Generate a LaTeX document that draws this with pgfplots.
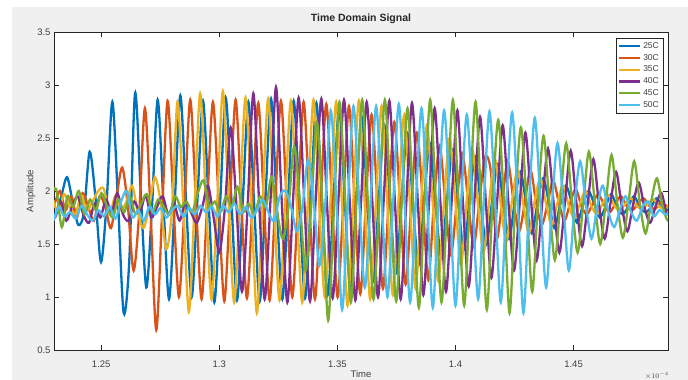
\documentclass[border=0pt]{standalone}
\usepackage{pgfplots}
\pgfplotsset{compat=1.18}
\usepackage{fontspec}
\setmainfont{Liberation Sans}
\definecolor{c1}{HTML}{0072BD}
\definecolor{c2}{HTML}{D95319}
\definecolor{c3}{HTML}{EDB120}
\definecolor{c4}{HTML}{7E2F8E}
\definecolor{c5}{HTML}{77AC30}
\definecolor{c6}{HTML}{4DBEEE}
\definecolor{axgray}{HTML}{262626}
\definecolor{txgray}{HTML}{404040}
\definecolor{figbg}{HTML}{F0F0F0}
\begin{document}
\begin{tikzpicture}[x=1pt,y=1pt]
\path[use as bounding box] (0,0) rectangle (688,380);
\fill[figbg] (12,0) rectangle (688,373);
\begin{axis}[
  at={(54pt,30pt)}, anchor=south west, scale only axis,
  width=614pt, height=318pt,
  xmin=1.23, xmax=1.49, ymin=0.5, ymax=3.5,
  xtick={1.25,1.3,1.35,1.4,1.45}, xticklabels={1.25,1.3,1.35,1.4,1.45},
  ytick={0.5,1,1.5,2,2.5,3,3.5}, yticklabels={0.5,1,1.5,2,2.5,3,3.5},
  axis background/.style={fill=white},
  tick align=inside, major tick length=5pt,
  tick style={axgray, line width=0.5pt},
  axis line style={axgray, line width=0.5pt},
  ticklabel style={font=\fontsize{9.5}{10}\selectfont, text=txgray},
  xticklabel style={yshift=-7pt},
  every axis plot/.append style={line width=2.3pt, smooth, tension=0.5},
  legend style={at={(rel axis cs:0.992,0.982)}, anchor=north east,
    draw=axgray, line width=0.5pt, fill=white,
    font=\fontsize{8.5}{9}\selectfont, text=txgray,
    row sep=0.3pt, inner xsep=2pt, inner ysep=2.5pt},
  legend cell align=left,
  legend image code/.code={\draw[#1, line width=2.3pt] (0pt,0pt) -- (21pt,0pt);},
]
\addplot[c1] coordinates {(1.2283,1.85)(1.2307,1.78)(1.2331,1.95)(1.2355,2.13)(1.2379,1.90)(1.2403,1.68)(1.2427,1.80)(1.2451,2.37)(1.2475,1.95)(1.2499,1.33)(1.2523,1.90)(1.2547,2.84)(1.2571,1.90)(1.2595,0.85)(1.2619,1.35)(1.2643,2.92)(1.2667,2.00)(1.2691,1.09)(1.2715,1.85)(1.2739,2.86)(1.2763,1.90)(1.2787,0.98)(1.2811,1.88)(1.2835,2.90)(1.2859,1.92)(1.2883,1.00)(1.2907,1.90)(1.2931,2.85)(1.2955,1.88)(1.2979,0.95)(1.3003,1.86)(1.3027,2.88)(1.3051,1.93)(1.3075,0.97)(1.3099,1.89)(1.3123,2.84)(1.3147,1.90)(1.3171,0.96)(1.3195,1.91)(1.3219,2.87)(1.3243,1.88)(1.3267,0.98)(1.3291,1.90)(1.3315,2.85)(1.3339,1.92)(1.3363,0.99)(1.3387,1.88)(1.3411,2.83)(1.3435,1.90)(1.3459,1.02)(1.3483,1.89)(1.3507,2.78)(1.3531,1.92)(1.3555,1.08)(1.3579,1.90)(1.3603,2.70)(1.3627,1.88)(1.3651,1.15)(1.3675,1.91)(1.3699,2.62)(1.3723,1.90)(1.3747,1.22)(1.3771,1.88)(1.3795,2.55)(1.3819,1.92)(1.3843,1.30)(1.3867,1.89)(1.3891,2.45)(1.3915,1.90)(1.3939,1.38)(1.3963,1.88)(1.3987,2.38)(1.4011,1.92)(1.4035,1.45)(1.4059,1.90)(1.4083,2.32)(1.4107,1.88)(1.4131,1.50)(1.4155,1.90)(1.4179,2.25)(1.4203,1.88)(1.4227,1.55)(1.4251,1.90)(1.4275,2.18)(1.4299,1.89)(1.4323,1.60)(1.4347,1.88)(1.4371,2.12)(1.4395,1.90)(1.4419,1.65)(1.4443,1.87)(1.4467,2.05)(1.4491,1.90)(1.4515,1.70)(1.4539,1.86)(1.4563,2.00)(1.4587,1.88)(1.4611,1.75)(1.4635,1.85)(1.4659,1.97)(1.4683,1.86)(1.4707,1.78)(1.4731,1.85)(1.4755,1.95)(1.4779,1.86)(1.4803,1.80)(1.4827,1.84)(1.4851,1.93)(1.4875,1.86)(1.4899,1.82)(1.4923,1.85)};
\addlegendentry{25C}
\addplot[c2] coordinates {(1.2277,1.90)(1.2301,1.88)(1.2325,2.00)(1.2349,1.82)(1.2373,1.95)(1.2397,1.75)(1.2421,1.98)(1.2445,1.85)(1.2469,1.72)(1.2493,1.95)(1.2517,1.85)(1.2541,1.65)(1.2565,1.95)(1.2589,2.22)(1.2613,1.85)(1.2637,1.25)(1.2661,1.80)(1.2685,2.78)(1.2709,1.80)(1.2733,0.69)(1.2757,1.75)(1.2781,2.85)(1.2805,1.92)(1.2829,1.00)(1.2853,1.88)(1.2877,2.86)(1.2901,1.90)(1.2925,0.98)(1.2949,1.90)(1.2973,2.84)(1.2997,1.92)(1.3021,0.96)(1.3045,1.88)(1.3069,2.86)(1.3093,1.90)(1.3117,0.99)(1.3141,1.91)(1.3165,2.83)(1.3189,1.88)(1.3213,0.97)(1.3237,1.90)(1.3261,2.85)(1.3285,1.92)(1.3309,1.00)(1.3333,1.89)(1.3357,2.84)(1.3381,1.90)(1.3405,0.98)(1.3429,1.90)(1.3453,2.82)(1.3477,1.91)(1.3501,1.00)(1.3525,1.88)(1.3549,2.80)(1.3573,1.90)(1.3597,1.03)(1.3621,1.90)(1.3645,2.72)(1.3669,1.92)(1.3693,1.08)(1.3717,1.89)(1.3741,2.65)(1.3765,1.90)(1.3789,1.12)(1.3813,1.88)(1.3837,2.55)(1.3861,1.92)(1.3885,1.16)(1.3909,1.90)(1.3933,2.42)(1.3957,1.90)(1.3981,1.40)(1.4005,1.88)(1.4029,2.35)(1.4053,1.92)(1.4077,1.48)(1.4101,1.90)(1.4125,2.32)(1.4149,2.20)(1.4173,1.55)(1.4197,1.88)(1.4221,2.28)(1.4245,1.92)(1.4269,1.62)(1.4293,1.88)(1.4317,2.20)(1.4341,1.90)(1.4365,1.68)(1.4389,1.87)(1.4413,2.10)(1.4437,1.90)(1.4461,1.72)(1.4485,1.88)(1.4509,2.02)(1.4533,1.86)(1.4557,1.78)(1.4581,1.88)(1.4605,1.97)(1.4629,1.87)(1.4653,1.80)(1.4677,1.88)(1.4701,1.95)(1.4725,1.86)(1.4749,1.82)(1.4773,1.88)(1.4797,1.93)(1.4821,1.86)(1.4845,1.83)(1.4869,1.89)(1.4893,1.86)(1.4917,1.85)};
\addlegendentry{30C}
\addplot[c3] coordinates {(1.2295,1.92)(1.2319,1.80)(1.2343,1.97)(1.2367,1.85)(1.2391,1.78)(1.2415,1.96)(1.2439,1.82)(1.2463,1.90)(1.2487,2.00)(1.2511,2.02)(1.2535,1.78)(1.2559,1.95)(1.2583,1.82)(1.2607,1.90)(1.2631,2.05)(1.2655,1.80)(1.2679,1.65)(1.2703,1.85)(1.2727,2.13)(1.2751,1.90)(1.2775,1.45)(1.2799,1.80)(1.2823,2.84)(1.2847,1.90)(1.2871,0.86)(1.2895,1.85)(1.2919,2.92)(1.2943,1.92)(1.2967,0.98)(1.2991,1.88)(1.3015,2.94)(1.3039,1.90)(1.3063,0.95)(1.3087,1.90)(1.3111,2.88)(1.3135,1.92)(1.3159,0.85)(1.3183,1.88)(1.3207,2.87)(1.3231,1.90)(1.3255,0.97)(1.3279,1.89)(1.3303,2.85)(1.3327,1.92)(1.3351,0.95)(1.3375,1.90)(1.3399,2.86)(1.3423,1.88)(1.3447,1.00)(1.3471,1.91)(1.3495,2.84)(1.3519,1.90)(1.3543,0.92)(1.3567,1.89)(1.3591,2.85)(1.3615,1.91)(1.3639,0.98)(1.3663,1.88)(1.3687,2.80)(1.3711,1.90)(1.3735,1.02)(1.3759,1.92)(1.3783,2.72)(1.3807,1.89)(1.3831,1.08)(1.3855,1.90)(1.3879,2.62)(1.3903,1.91)(1.3927,1.15)(1.3951,1.88)(1.3975,2.50)(1.3999,1.92)(1.4023,1.30)(1.4047,1.90)(1.4071,2.40)(1.4095,1.88)(1.4119,1.42)(1.4143,1.90)(1.4167,2.30)(1.4191,1.89)(1.4215,1.52)(1.4239,1.90)(1.4263,2.20)(1.4287,1.88)(1.4311,1.60)(1.4335,1.90)(1.4359,2.12)(1.4383,1.89)(1.4407,1.68)(1.4431,1.88)(1.4455,2.05)(1.4479,1.87)(1.4503,1.74)(1.4527,1.88)(1.4551,2.00)(1.4575,1.86)(1.4599,1.78)(1.4623,1.88)(1.4647,1.96)(1.4671,1.87)(1.4695,1.81)(1.4719,1.88)(1.4743,1.93)(1.4767,1.86)(1.4791,1.83)(1.4815,1.88)(1.4839,1.92)(1.4863,1.85)(1.4887,1.84)(1.4911,1.87)};
\addlegendentry{35C}
\addplot[c4] coordinates {(1.2280,1.80)(1.2304,1.75)(1.2328,1.90)(1.2352,1.72)(1.2376,1.85)(1.2400,1.95)(1.2424,1.78)(1.2448,1.70)(1.2472,1.88)(1.2496,1.75)(1.2520,1.92)(1.2544,1.80)(1.2568,1.98)(1.2592,1.78)(1.2616,1.72)(1.2640,1.90)(1.2664,1.80)(1.2688,1.96)(1.2712,1.75)(1.2736,1.85)(1.2760,1.95)(1.2784,1.78)(1.2808,1.88)(1.2832,1.72)(1.2856,1.90)(1.2880,1.80)(1.2904,1.70)(1.2928,1.85)(1.2952,2.05)(1.2976,1.75)(1.3000,1.42)(1.3024,1.85)(1.3048,2.60)(1.3072,1.88)(1.3096,1.05)(1.3120,1.86)(1.3144,2.92)(1.3168,1.92)(1.3192,0.98)(1.3216,1.88)(1.3240,2.98)(1.3264,1.92)(1.3288,0.95)(1.3312,1.90)(1.3336,2.88)(1.3360,1.90)(1.3384,0.96)(1.3408,1.92)(1.3432,2.87)(1.3456,1.88)(1.3480,0.99)(1.3504,1.90)(1.3528,2.86)(1.3552,1.92)(1.3576,0.97)(1.3600,1.89)(1.3624,2.84)(1.3648,1.90)(1.3672,1.00)(1.3696,1.91)(1.3720,2.85)(1.3744,1.88)(1.3768,0.98)(1.3792,1.90)(1.3816,2.83)(1.3840,1.92)(1.3864,1.02)(1.3888,1.89)(1.3912,2.78)(1.3936,1.90)(1.3960,1.05)(1.3984,1.91)(1.4008,2.76)(1.4032,1.88)(1.4056,1.10)(1.4080,1.90)(1.4104,2.70)(1.4128,1.92)(1.4152,1.18)(1.4176,1.89)(1.4200,2.62)(1.4224,1.90)(1.4248,1.25)(1.4272,1.88)(1.4296,2.55)(1.4320,1.91)(1.4344,1.35)(1.4368,1.90)(1.4392,2.40)(1.4416,1.88)(1.4440,1.42)(1.4464,1.90)(1.4488,2.38)(1.4512,1.89)(1.4536,1.48)(1.4560,1.88)(1.4584,2.30)(1.4608,1.87)(1.4632,1.55)(1.4656,1.88)(1.4680,2.18)(1.4704,1.86)(1.4728,1.62)(1.4752,1.87)(1.4776,2.08)(1.4800,1.85)(1.4824,1.70)(1.4848,1.86)(1.4872,1.98)(1.4896,1.78)(1.4920,1.84)};
\addlegendentry{40C}
\addplot[c5] coordinates {(1.2285,1.95)(1.2309,2.02)(1.2333,1.66)(1.2357,1.95)(1.2381,1.85)(1.2405,2.00)(1.2429,1.78)(1.2453,1.92)(1.2477,1.82)(1.2501,1.98)(1.2525,1.85)(1.2549,1.75)(1.2573,1.92)(1.2597,1.80)(1.2621,1.95)(1.2645,1.78)(1.2669,1.88)(1.2693,1.97)(1.2717,1.80)(1.2741,1.92)(1.2765,1.85)(1.2789,1.78)(1.2813,1.95)(1.2837,1.85)(1.2861,1.90)(1.2885,1.80)(1.2909,1.98)(1.2933,2.10)(1.2957,1.85)(1.2981,1.90)(1.3005,1.80)(1.3029,1.95)(1.3053,1.85)(1.3077,2.04)(1.3101,1.80)(1.3125,1.88)(1.3149,1.78)(1.3173,1.95)(1.3197,1.85)(1.3221,2.13)(1.3245,1.80)(1.3269,1.55)(1.3293,1.85)(1.3317,2.42)(1.3341,1.90)(1.3365,1.25)(1.3389,1.85)(1.3413,2.65)(1.3437,1.85)(1.3461,0.78)(1.3485,1.80)(1.3509,2.84)(1.3533,1.92)(1.3557,0.95)(1.3581,1.90)(1.3605,2.86)(1.3629,1.91)(1.3653,0.98)(1.3677,1.88)(1.3701,2.86)(1.3725,1.90)(1.3749,0.96)(1.3773,1.92)(1.3797,2.78)(1.3821,1.88)(1.3845,0.90)(1.3869,1.90)(1.3893,2.86)(1.3917,1.91)(1.3941,0.95)(1.3965,1.89)(1.3989,2.86)(1.4013,1.90)(1.4037,0.92)(1.4061,1.92)(1.4085,2.84)(1.4109,1.88)(1.4133,0.88)(1.4157,1.90)(1.4181,2.67)(1.4205,1.91)(1.4229,0.85)(1.4253,1.88)(1.4277,2.60)(1.4301,1.90)(1.4325,1.05)(1.4349,1.89)(1.4373,2.52)(1.4397,1.90)(1.4421,1.35)(1.4445,1.92)(1.4469,2.45)(1.4493,1.90)(1.4517,1.42)(1.4541,1.88)(1.4565,2.37)(1.4589,1.92)(1.4613,1.50)(1.4637,1.90)(1.4661,2.34)(1.4685,1.89)(1.4709,1.56)(1.4733,1.90)(1.4757,2.28)(1.4781,1.88)(1.4805,1.60)(1.4829,1.90)(1.4853,2.12)(1.4877,1.86)(1.4901,1.72)(1.4925,1.90)};
\addlegendentry{45C}
\addplot[c6] coordinates {(1.2272,1.78)(1.2296,1.72)(1.2320,1.85)(1.2344,1.76)(1.2368,1.80)(1.2392,1.74)(1.2416,1.86)(1.2440,1.78)(1.2464,1.72)(1.2488,1.82)(1.2512,1.76)(1.2536,1.85)(1.2560,1.74)(1.2584,1.90)(1.2608,2.00)(1.2632,1.75)(1.2656,1.82)(1.2680,1.72)(1.2704,1.85)(1.2728,1.78)(1.2752,1.84)(1.2776,1.75)(1.2800,1.82)(1.2824,1.86)(1.2848,1.76)(1.2872,1.84)(1.2896,1.78)(1.2920,1.86)(1.2944,1.80)(1.2968,1.85)(1.2992,1.76)(1.3016,1.86)(1.3040,1.80)(1.3064,1.88)(1.3088,1.78)(1.3112,1.85)(1.3136,1.75)(1.3160,1.82)(1.3184,1.92)(1.3208,1.80)(1.3232,1.72)(1.3256,1.95)(1.3280,2.00)(1.3304,1.85)(1.3328,1.62)(1.3352,1.85)(1.3376,2.30)(1.3400,1.90)(1.3424,1.30)(1.3448,1.85)(1.3472,2.76)(1.3496,1.90)(1.3520,0.88)(1.3544,1.85)(1.3568,2.80)(1.3592,1.92)(1.3616,1.09)(1.3640,1.88)(1.3664,2.80)(1.3688,1.90)(1.3712,1.00)(1.3736,1.89)(1.3760,2.82)(1.3784,1.91)(1.3808,0.95)(1.3832,1.88)(1.3856,2.78)(1.3880,1.90)(1.3904,0.90)(1.3928,1.90)(1.3952,2.76)(1.3976,1.92)(1.4000,0.92)(1.4024,1.88)(1.4048,2.72)(1.4072,1.90)(1.4096,0.98)(1.4120,1.89)(1.4144,2.75)(1.4168,1.90)(1.4192,0.95)(1.4216,1.92)(1.4240,2.74)(1.4264,1.88)(1.4288,0.85)(1.4312,1.90)(1.4336,2.69)(1.4360,1.88)(1.4384,1.09)(1.4408,1.85)(1.4432,2.45)(1.4456,1.90)(1.4480,1.25)(1.4504,1.86)(1.4528,2.28)(1.4552,1.88)(1.4576,1.55)(1.4600,1.85)(1.4624,2.05)(1.4648,1.80)(1.4672,1.66)(1.4696,1.82)(1.4720,1.95)(1.4744,1.80)(1.4768,1.72)(1.4792,1.85)(1.4816,1.90)(1.4840,1.76)(1.4864,1.82)(1.4888,1.78)(1.4912,1.80)};
\addlegendentry{50C}
\end{axis}
\node[font=\bfseries\fontsize{10.5}{12}\selectfont, text=axgray] at (361,361) {Time Domain Signal};
\node[rotate=90, font=\fontsize{9.5}{10}\selectfont, text=txgray] at (31,189) {Amplitude};
\node[font=\fontsize{9.5}{10}\selectfont, text=txgray] at (361,6) {Time};
\node[font=\fontsize{7}{8}\selectfont, text=txgray] at (657,4) {$\times10^{-4}$};
\end{tikzpicture}
\end{document}
